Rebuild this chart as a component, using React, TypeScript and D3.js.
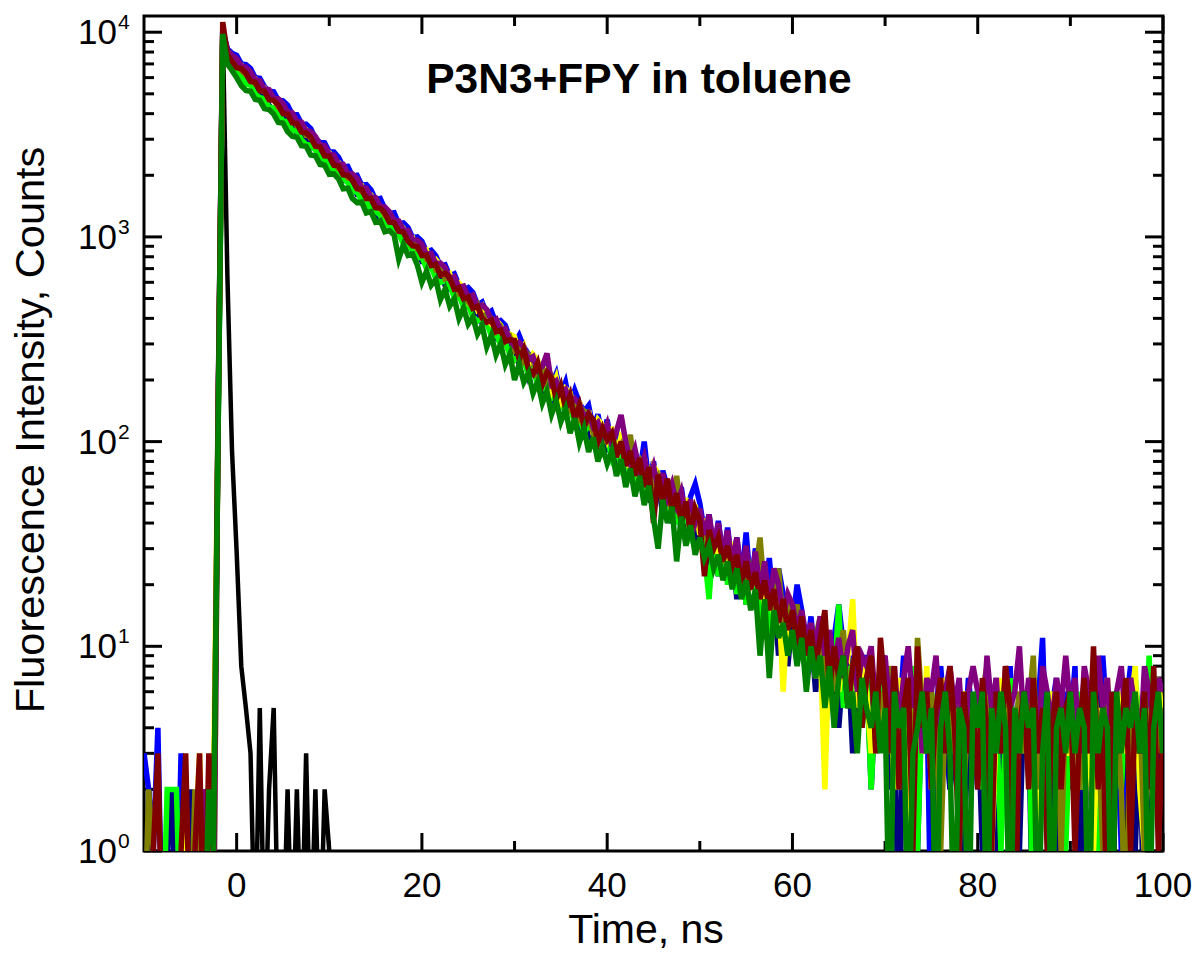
import React from "react";
import * as d3 from "d3";

// channel grid of the decay traces (ns)
const startNs = -10;
const stepNs = 0.5;

const xTickLabels = [0, 20, 40, 60, 80, 100];
const xMinorTicks = [10, 30, 50, 70, 90];
const yDecades = [0, 1, 2, 3, 4];

// counts, rows of 10 ns
const irfCounts = [
  0, 0, 0, 0, 0, 0, 0, 0, 0, 0, 0, 0, 0, 0, 0, 0, 200, 10500, 650, 90,
  29, 8, 5, 3, 0, 5, 0, 2, 5, 0, 0, 2, 0, 2, 0, 3, 0, 2, 0, 2,
  1, 0, 0, 0, 0, 0, 0, 0, 0, 0, 0, 0, 0, 0, 0, 0, 0, 0, 0, 0,
  1, 0, 0, 0, 0, 0, 0, 0, 0, 0, 0, 0, 0, 0, 0, 0, 0, 0, 0, 0,
  0, 0, 0, 0, 0, 0, 0, 0, 0, 0, 0, 0, 0, 0, 0, 0, 0, 0, 0, 0,
  0, 0, 0, 0, 0, 0, 0, 1, 0, 0, 0, 0, 0, 0, 0, 0, 0, 0, 0, 0,
  0, 0, 0, 0, 0, 0, 0, 0, 0, 0, 0, 0, 0, 0, 0, 0, 0, 0, 0, 1,
  0, 0, 0, 0, 0, 0, 0, 0, 0, 0, 0, 0, 0, 0, 0, 0, 0, 0, 0, 0,
  1, 0, 0, 0, 0, 0, 0, 0, 0, 0, 0, 0, 0, 0, 0, 0, 0, 0, 0, 0,
  0, 0, 0, 0, 0, 0, 0, 0, 0, 0, 0, 0, 0, 0, 0, 0, 0, 0, 1, 0,
  0, 0, 0, 0, 0, 0, 0, 0, 0, 0, 0, 0, 2, 0, 0, 0, 0, 0, 0, 0,
  0,
];

const blueCounts = [
  3, 2, 1, 4, 0, 1, 2, 0, 3, 0, 1, 0, 1, 2, 0, 1, 150, 10200, 8300, 7900,
  7700, 7000, 6950, 6650, 6000, 5950, 5420, 5150, 5120, 4650, 4620, 4400, 3960, 3950, 3560, 3550, 3380, 3030, 2890, 2880,
  2600, 2600, 2450, 2200, 2210, 1980, 2000, 1790, 1800, 1700, 1520, 1540, 1370, 1300, 1310, 1160, 1170, 1110, 990, 1000,
  950, 845, 860, 810, 720, 730, 645, 660, 580, 550, 565, 535, 465, 480, 420, 435, 378, 390, 370, 320,
  300, 330, 290, 268, 262, 240, 238, 250, 190, 215, 170, 195, 150, 178, 155, 140, 150, 115, 136, 104,
  128, 94, 115, 86, 90, 100, 84, 70, 100, 62, 80, 56, 72, 60, 55, 46, 60, 41, 54, 62,
  50, 36, 44, 28, 41, 27, 38, 24, 34, 21, 36, 19, 30, 26, 18, 27, 15, 24, 18, 12,
  13, 20, 15, 9, 14, 8, 12, 13, 6, 11, 16, 10, 5, 9, 4, 8, 9, 3, 7, 5,
  8, 2, 6, 4, 9, 1, 5, 7, 3, 6, 0, 5, 8, 4, 2, 6, 5, 3, 7, 4,
  2, 6, 5, 1, 7, 3, 4, 8, 2, 5, 3, 6, 4, 5, 11, 2, 5, 7, 2, 6,
  4, 8, 1, 5, 3, 7, 2, 9, 4, 3, 6, 1, 5, 8, 2, 4, 6, 3, 7, 5,
  3,
];

const navyCounts = [
  0, 2, 0, 1, 0, 1, 2, 0, 1, 0, 2, 0, 1, 0, 2, 1, 120, 9600, 7300, 6800,
  6300, 6250, 5700, 5650, 5350, 4850, 4850, 4380, 4180, 4150, 3950, 3560, 3550, 3210, 3200, 3030, 2740, 2720, 2470, 2340,
  2330, 2100, 2090, 1890, 1880, 1780, 1610, 1610, 1450, 1445, 1300, 1240, 1235, 1165, 1055, 1050, 945, 945, 850, 848,
  760, 770, 730, 640, 660, 580, 555, 565, 530, 465, 480, 420, 430, 378, 388, 365, 322, 306, 315, 272,
  290, 236, 262, 210, 240, 215, 178, 205, 158, 164, 176, 134, 158, 140, 114, 136, 102, 122, 92, 108,
  94, 104, 76, 94, 68, 86, 80, 58, 74, 52, 50, 64, 44, 58, 40, 54, 50, 33, 46, 30,
  40, 28, 26, 37, 22, 31, 21, 30, 17, 27, 16, 24, 23, 12, 21, 13, 19, 9, 17, 8,
  14, 9, 13, 8, 12, 6, 10, 11, 5, 9, 4, 8, 9, 3, 7, 5, 8, 2, 6, 4,
  6, 2, 5, 0, 7, 3, 4, 1, 6, 3, 5, 0, 4, 6, 2, 3, 5, 1, 4, 3,
  5, 1, 3, 6, 0, 4, 2, 5, 3, 1, 6, 4, 0, 3, 5, 2, 4, 0, 5, 3,
  2, 4, 0, 5, 3, 1, 6, 3, 4, 0, 5, 2, 3, 6, 1, 4, 0, 3, 5, 2,
  4,
];

const limeCounts = [
  1, 0, 0, 1, 0, 2, 2, 2, 0, 0, 1, 0, 0, 1, 0, 1, 110, 9500, 7200, 6700,
  6420, 6100, 5560, 5520, 5020, 4780, 4740, 4300, 4270, 4050, 3680, 3660, 3310, 3290, 2980, 2830, 2810, 2660, 2410, 2400,
  2170, 2160, 1950, 1940, 1840, 1660, 1660, 1500, 1490, 1345, 1340, 1275, 1145, 1140, 1030, 1030, 925, 880, 875, 790,
  795, 700, 715, 625, 600, 610, 578, 505, 520, 452, 468, 405, 388, 400, 380, 328, 340, 295, 305, 265,
  250, 263, 250, 212, 226, 190, 202, 172, 163, 172, 163, 137, 147, 123, 132, 111, 119, 114, 95, 102,
  104, 83, 94, 75, 85, 67, 64, 73, 58, 66, 52, 60, 57, 45, 51, 41, 39, 45, 35, 40,
  42, 28, 17, 36, 22, 32, 20, 29, 18, 27, 16, 25, 23, 13, 22, 11, 20, 17, 9, 16,
  15, 10, 13, 8, 11, 9, 12, 3, 10, 7, 16, 5, 8, 6, 9, 4, 7, 2, 6, 5,
  7, 3, 5, 2, 6, 4, 8, 1, 5, 3, 6, 4, 2, 7, 3, 5, 1, 6, 4, 3,
  4, 2, 6, 3, 5, 1, 4, 7, 2, 5, 3, 6, 0, 4, 5, 2, 6, 3, 4, 1,
  5, 3, 6, 2, 4, 7, 1, 5, 3, 6, 4, 2, 5, 3, 7, 4, 2, 9, 3, 4,
  3,
];

const yellowCounts = [
  0, 1, 0, 0, 1, 0, 1, 0, 0, 2, 0, 1, 3, 0, 1, 2, 140, 10000, 8000, 7500,
  7000, 6900, 6550, 6000, 5920, 5400, 5350, 5070, 4630, 4400, 4350, 3960, 3920, 3570, 3520, 3340, 3040, 3000, 2740, 2700,
  2580, 2330, 2310, 2190, 1980, 1970, 1790, 1780, 1600, 1600, 1510, 1370, 1365, 1230, 1170, 1165, 1100, 990, 990, 893,
  840, 860, 750, 775, 730, 640, 660, 575, 595, 560, 485, 510, 440, 460, 395, 375, 392, 370, 318, 335,
  325, 262, 290, 234, 266, 250, 198, 224, 178, 205, 158, 182, 174, 134, 158, 120, 142, 108, 128, 120,
  102, 118, 84, 106, 100, 70, 90, 64, 84, 57, 76, 70, 50, 64, 44, 60, 41, 53, 36, 49,
  35, 42, 31, 37, 28, 34, 25, 31, 29, 21, 26, 19, 24, 22, 16, 20, 14, 18, 6, 16,
  15, 11, 14, 9, 12, 7, 10, 2, 11, 8, 6, 10, 9, 17, 5, 8, 6, 3, 7, 5,
  4, 6, 2, 7, 5, 1, 4, 6, 3, 8, 2, 5, 4, 7, 3, 5, 2, 6, 4, 3,
  6, 3, 5, 1, 4, 7, 3, 5, 2, 6, 4, 3, 7, 1, 5, 4, 6, 2, 5, 3,
  3, 5, 2, 6, 4, 1, 5, 3, 7, 2, 4, 6, 3, 5, 8, 2, 1, 4, 6, 7,
  4,
];

const oliveCounts = [
  0, 2, 1, 0, 0, 1, 0, 0, 1, 0, 0, 2, 0, 1, 2, 0, 130, 9900, 7900, 7400,
  7100, 6500, 6200, 6120, 5580, 5520, 5250, 4780, 4730, 4300, 4100, 4060, 3850, 3490, 3460, 3130, 3110, 2830, 2800, 2550,
  2520, 2390, 2160, 2150, 1940, 1930, 1750, 1660, 1650, 1565, 1410, 1410, 1270, 1265, 1205, 1080, 1080, 970, 970, 875,
  880, 780, 795, 695, 715, 625, 640, 610, 530, 550, 480, 455, 470, 405, 420, 400, 345, 362, 310, 325,
  280, 296, 248, 266, 250, 210, 228, 190, 205, 170, 182, 174, 145, 157, 130, 141, 133, 110, 120, 100,
  100, 108, 90, 97, 82, 108, 73, 80, 66, 72, 60, 67, 54, 59, 49, 68, 45, 48, 40, 44,
  41, 35, 38, 30, 34, 27, 31, 24, 29, 22, 26, 20, 23, 34, 18, 21, 15, 24, 13, 16,
  13, 16, 10, 12, 8, 11, 14, 7, 10, 6, 9, 12, 5, 8, 10, 4, 7, 9, 3, 6,
  5, 8, 3, 6, 4, 7, 2, 11, 5, 3, 6, 4, 1, 5, 7, 3, 6, 2, 5, 4,
  3, 6, 8, 2, 5, 4, 7, 1, 4, 6, 3, 5, 9, 2, 5, 4, 3, 6, 1, 5,
  4, 6, 2, 5, 3, 7, 4, 1, 6, 3, 5, 2, 0, 7, 3, 5, 1, 4, 6, 3,
  5,
];

const purpleCounts = [
  1, 0, 1, 0, 0, 1, 0, 1, 0, 0, 1, 0, 0, 2, 1, 0, 140, 10100, 8200, 7700,
  7450, 6850, 6750, 6420, 5850, 5800, 5280, 5230, 4760, 4720, 4490, 4080, 4040, 3670, 3630, 3300, 3270, 3100, 2820, 2790,
  2540, 2510, 2270, 2260, 2040, 2030, 1930, 1750, 1730, 1570, 1555, 1415, 1400, 1325, 1205, 1195, 1080, 1075, 970, 965,
  925, 820, 830, 740, 745, 710, 625, 640, 565, 575, 508, 520, 455, 465, 442, 390, 398, 350, 357, 313,
  292, 305, 290, 250, 260, 224, 233, 270, 190, 198, 172, 180, 154, 162, 153, 131, 138, 118, 124, 106,
  122, 96, 112, 135, 100, 79, 92, 72, 84, 65, 76, 59, 70, 53, 62, 49, 57, 44, 52, 40,
  47, 35, 44, 31, 40, 28, 37, 25, 34, 22, 31, 20, 29, 18, 26, 16, 24, 20, 14, 18,
  16, 12, 15, 11, 13, 10, 14, 9, 12, 8, 11, 7, 10, 12, 6, 9, 8, 10, 5, 8,
  9, 5, 8, 4, 7, 10, 5, 8, 3, 7, 6, 9, 4, 6, 8, 5, 7, 3, 6, 8,
  6, 4, 9, 5, 7, 3, 8, 5, 6, 10, 4, 7, 5, 3, 8, 6, 4, 7, 5, 9,
  5, 7, 3, 8, 6, 4, 9, 5, 7, 3, 6, 8, 4, 7, 5, 3, 8, 6, 4, 7,
  6,
];

const maroonCounts = [
  0, 0, 1, 3, 0, 1, 0, 0, 1, 3, 0, 1, 3, 0, 3, 1, 130, 11200, 7800, 7200,
  6700, 6650, 6300, 5750, 5700, 5180, 5150, 4680, 4650, 4400, 4000, 3980, 3610, 3580, 3250, 3220, 3060, 2770, 2750, 2490,
  2480, 2240, 2220, 2010, 2000, 1890, 1720, 1710, 1540, 1540, 1390, 1380, 1310, 1180, 1175, 1065, 1055, 955, 905, 900,
  810, 815, 725, 735, 650, 665, 630, 555, 565, 498, 508, 448, 458, 402, 383, 392, 344, 350, 308, 315,
  312, 252, 282, 226, 214, 242, 190, 218, 205, 160, 186, 145, 168, 128, 150, 117, 136, 128, 99, 116,
  102, 110, 84, 100, 76, 90, 68, 83, 60, 75, 40, 69, 50, 66, 45, 56, 40, 51, 35, 47,
  41, 22, 37, 30, 34, 26, 31, 24, 28, 20, 26, 19, 23, 17, 21, 15, 19, 13, 17, 12,
  15, 10, 14, 9, 12, 8, 11, 15, 6, 10, 7, 9, 5, 8, 10, 4, 7, 9, 3, 11,
  6, 3, 8, 2, 5, 7, 1, 10, 4, 6, 2, 5, 7, 3, 8, 4, 1, 6, 3, 5,
  2, 7, 4, 1, 6, 3, 8, 5, 0, 4, 6, 2, 7, 3, 5, 1, 4, 6, 2, 5,
  6, 1, 4, 7, 3, 10, 2, 5, 0, 6, 3, 4, 7, 1, 5, 3, 6, 2, 8, 1,
  4,
];

const greenCounts = [
  0, 1, 0, 0, 1, 0, 1, 0, 0, 1, 0, 0, 1, 0, 2, 1, 110, 9800, 7000, 6500,
  6000, 5480, 5200, 5150, 4700, 4650, 4240, 4190, 3980, 3620, 3600, 3270, 3100, 3070, 2790, 2770, 2510, 2490, 2260, 2240,
  2020, 2030, 1920, 1720, 1730, 1540, 1470, 1480, 1310, 1330, 1180, 1200, 1060, 1075, 1020, 780, 915, 812, 825, 730,
  600, 680, 580, 620, 495, 555, 460, 500, 400, 450, 375, 405, 335, 368, 290, 330, 265, 300, 238, 268,
  200, 240, 195, 216, 172, 196, 154, 176, 136, 158, 125, 144, 110, 130, 99, 116, 89, 105, 80, 94,
  78, 90, 68, 82, 60, 74, 54, 68, 49, 61, 42, 30, 52, 40, 48, 26, 43, 31, 39, 28,
  34, 27, 31, 24, 28, 21, 26, 19, 24, 17, 21, 15, 19, 9, 17, 7, 15, 11, 13, 9,
  12, 8, 11, 6, 10, 7, 9, 5, 8, 4, 7, 9, 5, 6, 3, 7, 5, 4, 6, 3,
  5, 0, 6, 4, 5, 0, 3, 4, 6, 3, 5, 0, 4, 6, 3, 0, 5, 4, 0, 6,
  4, 6, 0, 5, 3, 6, 4, 0, 5, 3, 6, 4, 5, 0, 3, 6, 0, 4, 5, 3,
  6, 3, 5, 4, 0, 6, 3, 5, 4, 0, 6, 3, 5, 4, 6, 3, 5, 0, 4, 6,
  3,
];

// drawing order: first is at the bottom
const series = [
  { counts: irfCounts, color: "#000000", width: 4.5 },
  { counts: blueCounts, color: "#0000FF", width: 5.5 },
  { counts: navyCounts, color: "#000080", width: 5.5 },
  { counts: limeCounts, color: "#00FF00", width: 5.5 },
  { counts: yellowCounts, color: "#FFFF00", width: 5.5 },
  { counts: oliveCounts, color: "#808000", width: 5.5 },
  { counts: purpleCounts, color: "#800080", width: 5.5 },
  { counts: maroonCounts, color: "#800000", width: 5.5 },
  { counts: greenCounts, color: "#008000", width: 5.5 },
];

const W = 1196;
const H = 953;
const margin = { left: 144, right: 1163, top: 16, bottom: 851 };
const font = "'Liberation Sans', Arial, Helvetica, sans-serif";

export default function App() {
  const x = d3.scaleLinear().domain([-10, 100]).range([margin.left, margin.right]);
  const y = d3.scaleLog().domain([1, 12000]).range([margin.bottom, margin.top]);

  const line = d3
    .line<number>()
    .x((_, i) => x(startNs + i * stepNs))
    .y((d) => y(Math.max(d, 0.3)));

  const minorY: number[] = [];
  for (let e = 0; e < 4; e++) {
    for (let m = 2; m <= 9; m++) minorY.push(m * 10 ** e);
  }

  const tick = (x1: number, y1: number, x2: number, y2: number, key: string) => (
    <line key={key} x1={x1} y1={y1} x2={x2} y2={y2} stroke="#000" strokeWidth={3} />
  );

  return (
    <svg
      width={W}
      height={H}
      style={{ position: "absolute", left: 0, top: 0, background: "#fff" }}
      fontFamily={font}
    >
      <defs>
        <clipPath id="plot">
          <rect
            x={margin.left}
            y={margin.top}
            width={margin.right - margin.left}
            height={margin.bottom - margin.top}
          />
        </clipPath>
      </defs>

      {/* frame and ticks */}
      <rect
        x={margin.left}
        y={margin.top}
        width={margin.right - margin.left}
        height={margin.bottom - margin.top}
        fill="none"
        stroke="#000"
        strokeWidth={3}
      />
      {xTickLabels.map((t) => (
        <g key={"xt" + t}>
          {tick(x(t), margin.bottom, x(t), margin.bottom - 18, "b")}
          {tick(x(t), margin.top, x(t), margin.top + 18, "t")}
        </g>
      ))}
      {xMinorTicks.map((t) => (
        <g key={"xm" + t}>
          {tick(x(t), margin.bottom, x(t), margin.bottom - 10, "b")}
          {tick(x(t), margin.top, x(t), margin.top + 10, "t")}
        </g>
      ))}
      {yDecades.map((e) => (
        <g key={"yt" + e}>
          {tick(margin.left, y(10 ** e), margin.left + 18, y(10 ** e), "l")}
          {tick(margin.right, y(10 ** e), margin.right - 18, y(10 ** e), "r")}
        </g>
      ))}
      {minorY.map((v) => (
        <g key={"ym" + v}>
          {tick(margin.left, y(v), margin.left + 10, y(v), "l")}
          {tick(margin.right, y(v), margin.right - 10, y(v), "r")}
        </g>
      ))}

      {/* decay traces */}
      <g clipPath="url(#plot)" fill="none" strokeLinejoin="miter">
        {series.map((s, i) => (
          <path key={i} d={line(s.counts) ?? ""} stroke={s.color} strokeWidth={s.width} />
        ))}
      </g>

      {/* tick labels */}
      {xTickLabels.map((t) => (
        <text key={"xl" + t} x={x(t)} y={897} fontSize={35} textAnchor="middle">
          {t}
        </text>
      ))}
      {yDecades.map((e) => (
        <g key={"yl" + e}>
          <text x={117} y={y(10 ** e) + 12} fontSize={35} textAnchor="end">
            10
          </text>
          <text x={118} y={y(10 ** e) - 3} fontSize={21}>
            {e}
          </text>
        </g>
      ))}

      {/* titles */}
      <text x={639} y={93} fontSize={42.5} fontWeight="bold" textAnchor="middle">
        P3N3+FPY in toluene
      </text>
      <text x={646} y={943} fontSize={41} textAnchor="middle">
        Time, ns
      </text>
      <text
        transform={`translate(44, 430) rotate(-90)`}
        fontSize={41.5}
        textAnchor="middle"
      >
        Fluorescence Intensity, Counts
      </text>
    </svg>
  );
}
